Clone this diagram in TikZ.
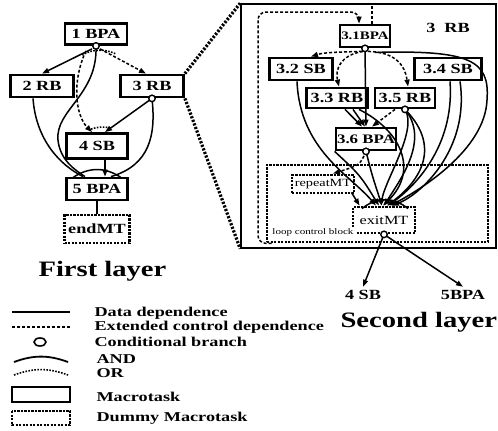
\documentclass[tikz,border=0pt]{standalone}
\usepackage{fontspec}
\setmainfont{Liberation Serif}[FakeStretch=1.3]
\newfontfamily\legfont{Liberation Serif}[FakeStretch=1.35]
\usetikzlibrary{arrows.meta, positioning, calc}

\begin{document}
\begin{tikzpicture}[x=1pt, y=1pt,
  >={Triangle[length=7pt, width=5pt]},
  mt/.style={draw, line width=2.8pt, fill=white, inner sep=0pt, minimum width=#1,
             minimum height=21pt, font=\bfseries\fontsize{14}{14}\selectfont},
  dummy/.style={draw, line width=2.8pt, dash pattern=on 2.2pt off 1.3pt, fill=white,
                inner sep=0pt, minimum width=#1, minimum height=20pt},
  dep/.style={line width=1.5pt},
  ctl/.style={line width=1.5pt, dash pattern=on 3pt off 2pt},
  orarc/.style={line width=1.6pt, dash pattern=on 1.6pt off 1.4pt},
  zoomline/.style={line width=3.2pt, dash pattern=on 2.2pt off 1.6pt},
  cond/.style={circle, draw, line width=1.4pt, fill=white, inner sep=0pt, minimum size=6.5pt},
  title/.style={font=\bfseries\fontsize{22}{22}\selectfont, anchor=base west},
  legtext/.style={font=\legfont\bfseries\fontsize{13.5}{13.5}\selectfont, anchor=base west},
]
  \useasboundingbox (0,-431) rectangle (498,0);

  \node[mt=62pt] (bpaA) at (96,-34) {1 BPA};
  \node[mt=63pt, minimum height=22pt] (rbB) at (42,-86) {2 RB};
  \node[mt=63pt, minimum height=22pt] (rbC) at (152,-86) {3 RB};
  \node[mt=61pt, minimum height=25pt] (sbD) at (97,-146) {4 SB};
  \node[mt=61pt, minimum height=22pt] (bpaE) at (97,-189) {5 BPA};
  \node[dummy=65pt, minimum height=28pt, font=\bfseries\fontsize{14}{14}\selectfont] (endmt) at (97,-229) {endMT};
  \node[title] (first) at (35,-276) {First layer};

  \node[draw, line width=1.6pt, minimum width=255pt, minimum height=244pt, inner sep=0pt] (rbbox) at (368.5,-126) {};
  \node[font=\bfseries\fontsize{14}{14}\selectfont] (rbname) at (448,-28) {3~~RB};

  \node[dummy=221pt, minimum height=77pt] (lcb) at (377.5,-203.5) {};
  \node[mt=50pt, minimum height=22pt, font=\bfseries\fontsize{11.5}{11.5}\selectfont] (m31) at (365,-36) {3.1BPA};
  \node[mt=63pt, minimum height=22pt] (m32) at (301,-69) {3.2 SB};
  \node[mt=67pt, minimum height=22pt] (m34) at (448,-69) {3.4 SB};
  \node[mt=61pt, minimum height=20pt] (m33) at (337,-98) {3.3 RB};
  \node[mt=60pt, minimum height=20pt] (m35) at (405,-98) {3.5 RB};
  \node[mt=60pt, minimum height=22pt, font=\bfseries\fontsize{13}{13}\selectfont] (m36) at (366,-139) {3.6 BPA};
  \node[dummy=62pt, minimum height=18pt, font=\fontsize{11}{11}\selectfont] (repeatmt) at (323,-184) {repeatMT};
  \node[dummy=62pt, minimum height=26pt, font=\fontsize{12.5}{12.5}\selectfont] (exitmt) at (384,-220) {exitMT};
  \node[font=\fontsize{8.5}{8.5}\selectfont, fill=white, inner sep=1pt] (lcbname) at (313,-232) {loop control block};
  \node[font=\bfseries\fontsize{14}{14}\selectfont] (sbFour) at (363,-295) {4 SB};
  \node[font=\bfseries\fontsize{14}{14}\selectfont] (bpaFive) at (463,-295) {5BPA};
  \node[title] (second) at (337,-327) {Second layer};

  \draw[zoomline] (rbC.north east) -- (rbbox.north west);
  \draw[zoomline] (rbC.south east) -- (rbbox.south west);

  \draw[dep,->] ($(bpaA.south)+(-4,-3)$) -- (rbB.north);
  \draw[ctl,->] ($(bpaA.south)+(4,-3)$) -- ($(rbC.north)+(-6,0)$);
  \draw[ctl,->] ($(bpaA.south)+(-10,-5)$) .. controls (72,-80) and (75,-115) .. ($(sbD.north)+(-5,0)$);
  \draw[orarc] ($(bpaA.south)+(-14,-9)$) to[bend left=25] ($(bpaA.south)+(20,-8)$);
  \draw[dep] (bpaA.south) .. controls (98,-95) and (55,-110) .. (58,-140)
    .. controls (60,-160) and (75,-170) .. ($(bpaE.north)+(-12,0)$);
  \draw[dep] ($(rbB.south)+(-9,0)$) .. controls (36,-140) and (60,-165) .. ($(bpaE.north)+(-14,0)$);
  \draw[dep,->] (rbC.south) -- ($(sbD.north)+(8,0)$);
  \draw[orarc] ($(sbD.north)+(-6,3)$) to[bend left=15] ($(sbD.north)+(14,4)$);
  \draw[dep] (rbC.south) .. controls (156,-135) and (150,-165) .. ($(bpaE.north)+(14,0)$);
  \draw[dep,->] ($(sbD.south)+(8,0)$) -- ($(bpaE.north)+(8,0)$);
  \draw[dep] ($(bpaE.north)+(-24,-1)$) to[bend left=35] ($(bpaE.north)+(24,-1)$);
  \draw[dep] (bpaE.south) -- (endmt.north);
  \node[cond] (cA) at (bpaA.south) {};
  \node[cond] (cC) at (rbC.south) {};

  \coordinate (topin) at ($(m31.north)+(7,0)$);
  \draw[ctl] (topin) -- (topin |- rbbox.north);
  \draw[ctl,->,rounded corners=8pt] ($(lcb.south west)+(6,0)$) -| (258,-12) -| ($(m31.north)+(-6,0)$);
  \draw[ctl,->] ($(m31.south)+(-3,-3)$) .. controls (345,-52) and (325,-52) .. ($(m32.north)+(10,0)$);
  \draw[ctl,->] ($(m31.south)+(-2,-3)$) .. controls (340,-55) and (335,-70) .. ($(m33.north)+(2,0)$);
  \draw[ctl,->] ($(m31.south)+(3,-3)$) .. controls (395,-52) and (405,-65) .. ($(m35.north)+(3,0)$);
  \draw[dep,->] (m31.south) -- (m36.north);
  \draw[dep,->] ($(m31.south)+(10,-4)$) .. controls (470,-50) and (490,-60) .. (487,-100)
    .. controls (485,-150) and (420,-190) .. ($(exitmt.north)+(6,0)$);
  \draw[dep,->] ($(m32.south)+(-4,0)$) .. controls (300,-150) and (350,-175) .. ($(exitmt.north)+(-8,0)$);
  \draw[dep,->] ($(m33.south)+(8,0)$) -- ($(m36.north)+(-4,0)$);
  \draw[dep,->] ($(m33.south)+(16,0)$) -- ($(m36.north)+(-1,0)$);
  \draw[ctl,->] ($(m35.south)+(-10,0)$) -- ($(m36.north)+(6,0)$);
  \draw[dep,->] (m35.south) .. controls (430,-140) and (400,-180) .. (exitmt.north);
  \draw[dep,->] (m35.south) .. controls (445,-150) and (415,-185) .. ($(exitmt.north)+(3,0)$);
  \draw[dep,->] (m35.south) .. controls (418,-130) and (385,-180) .. ($(exitmt.north)+(-3,0)$);
  \draw[dep,->] ($(m34.south)+(2,0)$) .. controls (455,-150) and (410,-190) .. ($(exitmt.north)+(4,0)$);
  \draw[dep,->] ($(m34.south)+(12,0)$) .. controls (470,-150) and (420,-195) .. ($(exitmt.north)+(8,0)$);
  \draw[dep,->] ($(m33.south)+(22,0)$) .. controls (400,-130) and (420,-170) .. ($(exitmt.north)+(-1,0)$);
  \draw[ctl,->] (m36.south) .. controls (360,-165) .. ($(repeatmt.north)+(10,0)$);
  \draw[dep,->] (m36.south) .. controls (372,-175) .. ($(exitmt.north)+(-2,0)$);
  \draw[dep,->] (m36.south west) .. controls (360,-175) .. ($(exitmt.north)+(-5,0)$);
  \draw[dep,->] ($(repeatmt.south east)+(-4,2)$) -- ($(exitmt.north west)+(8,0)$);
  \draw[dep] ($(exitmt.north)+(-22,-3)$) to[bend left=40] ($(exitmt.north)+(24,-3)$);
  \draw[dep,->] (exitmt.south) -- (sbFour.north);
  \draw[dep,->] (exitmt.south) -- (bpaFive.north);
  \node[cond] (c31) at (m31.south) {};
  \node[cond] (c35) at (m35.south) {};
  \node[cond] (c36) at (m36.south) {};
  \node[cond] (cexit) at (exitmt.south) {};

  \draw[line width=1.8pt] (12,-312) -- (70,-312);
  \draw[ctl] (12,-327) -- (70,-327);
  \draw[line width=1.6pt] (40,-342) ellipse (6pt and 4pt);
  \draw[line width=1.8pt] (14,-362) to[bend left=20] (68,-362);
  \draw[orarc] (14,-375) to[bend left=20] (68,-375);
  \draw[line width=2.8pt] (12,-387) rectangle (70,-402);
  \draw[line width=2.8pt, dash pattern=on 2.2pt off 1.3pt] (12,-411) rectangle (70,-425);
  \node[legtext] (lgData) at (91,-316) {Data dependence};
  \node[legtext] (lgCtl) at (91,-330.5) {Extended control dependence};
  \node[legtext] (lgCond) at (91,-346) {Conditional branch};
  \node[legtext] (lgAnd) at (93,-363) {AND};
  \node[legtext] (lgOr) at (93,-377) {OR};
  \node[legtext] (lgMt) at (93,-401) {Macrotask};
  \node[legtext] (lgDummy) at (93,-421) {Dummy Macrotask};
\end{tikzpicture}
\end{document}
